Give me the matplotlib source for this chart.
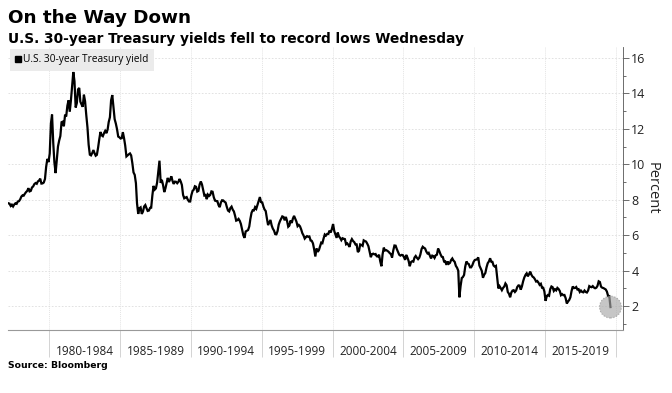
import numpy as np
import pandas as pd
import matplotlib
matplotlib.use("Agg")
import matplotlib.pyplot as plt
from matplotlib.lines import Line2D

# monthly 30-year Treasury yield (%), Feb 1977 .. Aug 2019
yields = [
    # 1977 (from Feb)
    7.80, 7.78, 7.65, 7.72, 7.62, 7.73, 7.80, 7.77, 7.90, 7.92, 8.02,
    # 1978
    8.18, 8.25, 8.23, 8.34, 8.43, 8.50, 8.65, 8.47, 8.50, 8.69, 8.75, 8.88,
    # 1979
    8.94, 8.90, 9.03, 9.08, 9.19, 8.91, 8.92, 8.97, 9.17, 9.85, 10.30, 10.12,
    # 1980
    10.60, 12.30, 12.80, 11.20, 10.10, 9.50, 10.24, 11.00, 11.34, 11.59, 12.37, 12.40,
    # 1981
    12.14, 12.80, 12.69, 13.30, 13.60, 12.96, 13.59, 14.40, 15.20, 14.68, 13.20, 13.45,
    # 1982
    14.22, 14.30, 13.53, 13.37, 13.24, 13.92, 13.55, 12.77, 12.07, 11.10, 10.54, 10.50,
    # 1983
    10.63, 10.80, 10.63, 10.48, 10.53, 10.93, 11.40, 11.82, 11.63, 11.58, 11.75, 11.88,
    # 1984
    11.75, 11.95, 12.38, 12.65, 13.60, 13.90, 13.21, 12.54, 12.29, 11.98, 11.56, 11.52,
    # 1985
    11.45, 11.47, 11.81, 11.47, 11.05, 10.44, 10.50, 10.56, 10.61, 10.50, 10.06, 9.54,
    # 1986
    9.40, 8.93, 7.80, 7.20, 7.52, 7.57, 7.20, 7.33, 7.62, 7.70, 7.52, 7.37,
    # 1987
    7.39, 7.54, 7.55, 8.25, 8.78, 8.57, 8.64, 8.97, 9.59, 10.20, 8.95, 9.12,
    # 1988
    8.83, 8.43, 8.63, 8.95, 9.23, 9.00, 9.14, 9.32, 9.06, 8.89, 9.02, 9.01,
    # 1989
    8.93, 9.01, 9.17, 9.03, 8.83, 8.27, 8.08, 8.12, 8.15, 8.00, 7.90, 7.90,
    # 1990
    8.26, 8.50, 8.56, 8.76, 8.73, 8.46, 8.50, 8.86, 9.03, 8.86, 8.54, 8.24,
    # 1991
    8.27, 8.03, 8.29, 8.21, 8.27, 8.47, 8.45, 8.14, 7.95, 7.93, 7.92, 7.70,
    # 1992
    7.58, 7.85, 7.97, 7.96, 7.89, 7.84, 7.60, 7.39, 7.34, 7.53, 7.61, 7.44,
    # 1993
    7.34, 7.09, 6.82, 6.85, 6.92, 6.81, 6.63, 6.32, 6.00, 5.85, 6.21, 6.25,
    # 1994
    6.29, 6.49, 6.91, 7.27, 7.41, 7.40, 7.58, 7.49, 7.71, 7.94, 8.15, 7.87,
    # 1995
    7.85, 7.61, 7.45, 7.36, 6.95, 6.57, 6.72, 6.86, 6.55, 6.37, 6.26, 6.06,
    # 1996
    6.05, 6.24, 6.60, 6.79, 6.93, 7.06, 7.03, 6.84, 7.03, 6.81, 6.48, 6.55,
    # 1997
    6.83, 6.69, 6.93, 7.09, 6.94, 6.77, 6.51, 6.58, 6.50, 6.33, 6.11, 5.99,
    # 1998
    5.81, 5.89, 5.95, 5.92, 5.93, 5.70, 5.68, 5.54, 5.20, 4.80, 5.25, 5.06,
    # 1999
    5.16, 5.37, 5.58, 5.55, 5.81, 6.04, 5.98, 6.07, 6.07, 6.26, 6.15, 6.35,
    # 2000
    6.63, 6.23, 6.05, 5.85, 6.15, 5.93, 5.85, 5.72, 5.83, 5.80, 5.78, 5.49,
    # 2001
    5.54, 5.45, 5.34, 5.65, 5.78, 5.67, 5.61, 5.48, 5.48, 5.05, 5.12, 5.48,
    # 2002
    5.45, 5.40, 5.71, 5.67, 5.64, 5.52, 5.38, 5.08, 4.76, 4.93, 4.96, 4.92,
    # 2003
    4.94, 4.81, 4.80, 4.90, 4.53, 4.25, 4.93, 5.30, 5.14, 5.16, 5.12, 5.07,
    # 2004
    4.99, 4.93, 4.74, 5.14, 5.42, 5.41, 5.22, 5.06, 4.90, 4.85, 4.89, 4.88,
    # 2005
    4.77, 4.61, 4.89, 4.75, 4.56, 4.25, 4.48, 4.53, 4.51, 4.74, 4.83, 4.73,
    # 2006
    4.65, 4.73, 4.91, 5.22, 5.35, 5.29, 5.25, 5.08, 4.97, 5.01, 4.85, 4.69,
    # 2007
    4.85, 4.82, 4.72, 4.87, 4.90, 5.25, 5.11, 4.93, 4.79, 4.77, 4.52, 4.53,
    # 2008
    4.33, 4.52, 4.39, 4.44, 4.60, 4.69, 4.57, 4.50, 4.27, 4.17, 4.00, 2.50,
    # 2009
    3.13, 3.59, 3.64, 3.76, 4.23, 4.52, 4.41, 4.37, 4.19, 4.19, 4.31, 4.49,
    # 2010
    4.60, 4.62, 4.64, 4.75, 4.29, 4.13, 3.99, 3.60, 3.77, 3.87, 4.19, 4.42,
    # 2011
    4.52, 4.70, 4.51, 4.50, 4.29, 4.23, 4.27, 3.65, 3.00, 3.13, 3.02, 2.90,
    # 2012
    3.03, 3.11, 3.28, 3.18, 2.80, 2.70, 2.50, 2.77, 2.88, 2.90, 2.80, 2.88,
    # 2013
    3.08, 3.17, 3.16, 2.93, 3.11, 3.40, 3.61, 3.76, 3.85, 3.68, 3.80, 3.95,
    # 2014
    3.77, 3.66, 3.62, 3.52, 3.39, 3.42, 3.33, 3.20, 3.26, 3.04, 3.04, 2.83,
    # 2015
    2.30, 2.57, 2.63, 2.59, 2.96, 3.11, 3.07, 2.86, 2.95, 2.89, 3.03, 2.97,
    # 2016
    2.86, 2.62, 2.68, 2.62, 2.63, 2.45, 2.15, 2.26, 2.35, 2.50, 2.86, 3.11,
    # 2017
    3.02, 3.03, 3.08, 2.94, 2.96, 2.80, 2.88, 2.80, 2.78, 2.88, 2.80, 2.77,
    # 2018
    2.88, 3.13, 3.09, 3.07, 3.13, 3.05, 3.01, 3.04, 3.15, 3.40, 3.36, 3.10,
    # 2019
    3.04, 3.02, 2.98, 2.94, 2.82, 2.57, 2.57, 1.95,
]
start = "1977-02-01"
period_labels = ["1980-1984", "1985-1989", "1990-1994", "1995-1999",
                 "2000-2004", "2005-2009", "2010-2014", "2015-2019"]
period_starts = [1980, 1985, 1990, 1995, 2000, 2005, 2010, 2015, 2020]

dates = pd.date_range(start, periods=len(yields), freq="MS")
years = dates.year + (dates.dayofyear - 1) / 365.25 + 0.04

fig = plt.figure(figsize=(6.72, 3.93), dpi=100)
ax = fig.add_axes([0.012, 0.160, 0.915, 0.720])

ax.plot(years, yields, color="black", lw=1.6, solid_joinstyle="miter")
ax.scatter([years[-1]], [yields[-1]], s=250, color="#a8a8a8", alpha=0.65,
           edgecolor="#888888", linestyle=":", linewidth=0.8, zorder=3)

ax.set_xlim(1977.1, 2020.5)
ax.set_ylim(0.65, 16.6)

# y axis on the right
ax.yaxis.tick_right()
ax.yaxis.set_label_position("right")
ax.set_yticks(range(2, 17, 2))
ax.set_yticks(range(1, 17, 2), minor=True)
ax.tick_params(axis="y", which="major", length=4, width=0.6, colors="#555555",
               labelcolor="#222222", labelsize=9, pad=2)
ax.tick_params(axis="y", which="minor", length=2.5, width=0.6, colors="#555555")
for t in ax.get_yticklabels():
    t.set_fontfamily("Open Sans")
ax.set_ylabel("Percent", rotation=270, fontsize=10.5, color="#222222",
              labelpad=10, fontfamily="Open Sans")

# x axis: long separator ticks, labels centred between them
ax.set_xticks(period_starts)
ax.set_xticklabels([])
ax.set_xticks([y + 2.5 for y in period_starts[:-1]], minor=True)
ax.set_xticklabels(period_labels, minor=True, fontfamily="Open Sans")
ax.tick_params(axis="x", which="major", length=19.5, width=0.6, colors="#cccccc")
ax.tick_params(axis="x", which="minor", length=0, labelsize=8.5,
               labelcolor="#222222", pad=11)

ax.grid(axis="y", which="major", color="#dddddd", ls=(0, (2, 2)), lw=0.6)
ax.grid(axis="x", which="major", color="#e4e4e4", ls=(0, (1, 1)), lw=0.7)

for s in ["top", "left"]:
    ax.spines[s].set_visible(False)
ax.spines["bottom"].set_color("#999999")
ax.spines["right"].set_color("#555555")
ax.spines["bottom"].set_linewidth(0.8)
ax.spines["right"].set_linewidth(0.6)

handle = Line2D([], [], color="black", marker="s", ls="none", markersize=5)
leg = ax.legend([handle], ["U.S. 30-year Treasury yield"], loc="upper left",
                bbox_to_anchor=(0.0, 1.0),
                prop={"family": "Open Sans", "size": 7.3}, frameon=True,
                fancybox=False, handlelength=0.6, handletextpad=0.2,
                borderpad=0.55, borderaxespad=0.15)
leg.get_frame().set_facecolor("#ebebeb")
leg.get_frame().set_edgecolor("none")
leg.get_frame().set_alpha(1)

fig.text(0.012, 0.955, "On the Way Down", fontsize=13.2, fontweight="bold",
         va="center", ha="left")
fig.text(0.012, 0.902, "U.S. 30-year Treasury yields fell to record lows Wednesday",
         fontsize=9.9, fontweight="bold", va="center", ha="left")
fig.text(0.012, 0.071, "Source: Bloomberg", fontsize=6.7, fontweight="bold",
         va="center", ha="left")

fig.savefig("out.png", dpi=100)
